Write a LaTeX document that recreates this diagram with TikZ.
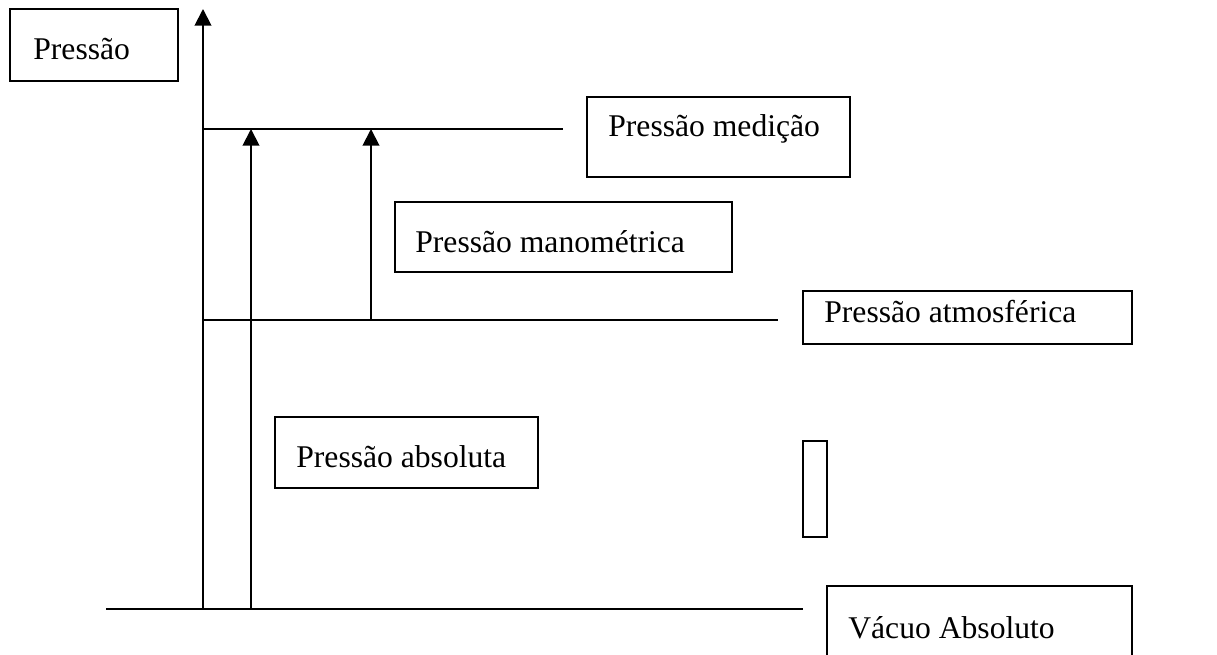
\documentclass[tikz,border=0pt]{standalone}
\usepackage{fontspec}
\setmainfont{Liberation Serif}
\usetikzlibrary{arrows.meta}
\tikzset{
  box/.style={draw,line width=1.1pt},
  lbl/.style={anchor=base west,inner sep=0pt,font=\fontsize{18}{20}\selectfont},
  ln/.style={line width=1.1pt},
  up/.style={ln,-{Triangle[width=9.5pt,length=9.5pt]}}
}

\begin{document}
\begin{tikzpicture}[x=0.02cm,y=-0.02cm]
    \useasboundingbox (0,0) rectangle (1217,655);
    % levels
    \coordinate (o)   at (203,609);
    \coordinate (top) at (203,9);
    \coordinate (atm) at (203,320);
    \coordinate (med) at (203,129);
    \draw[ln] (106,609) -- (803,609);
    \draw[ln] (atm) -- (778,320);
    \draw[ln] (med) -- (563,129);
    \draw[up] (o) -- (top);
    % arrows
    \coordinate (a1) at (251,609);
    \coordinate (a2) at (251,129);
    \coordinate (b1) at (371,320);
    \coordinate (b2) at (371,129);
    \draw[up] (a1) -- (a2);
    \draw[up] (b1) -- (b2);
    % labels
    \draw[box] (10,9) rectangle (178,81);
    \node[lbl] (pres) at (33,60) {Pressão};
    \draw[box] (587,97) rectangle (850,177);
    \node[lbl] (pmed) at (608,137) {Pressão medição};
    \draw[box] (395,202) rectangle (732,272);
    \node[lbl] (pman) at (415,253) {Pressão manométrica};
    \draw[box] (803,291) rectangle (1132,344);
    \node[lbl] (patm) at (824,322) {Pressão atmosférica};
    \draw[box] (275,417) rectangle (538,488);
    \node[lbl] (pabs) at (296,467) {Pressão absoluta};
    \draw[box] (803,441) rectangle (827,537);
    \draw[box] (827,586) rectangle (1132,665);
    \node[lbl] (vac) at (848,638) {Vácuo Absoluto};
\end{tikzpicture}
\end{document}
